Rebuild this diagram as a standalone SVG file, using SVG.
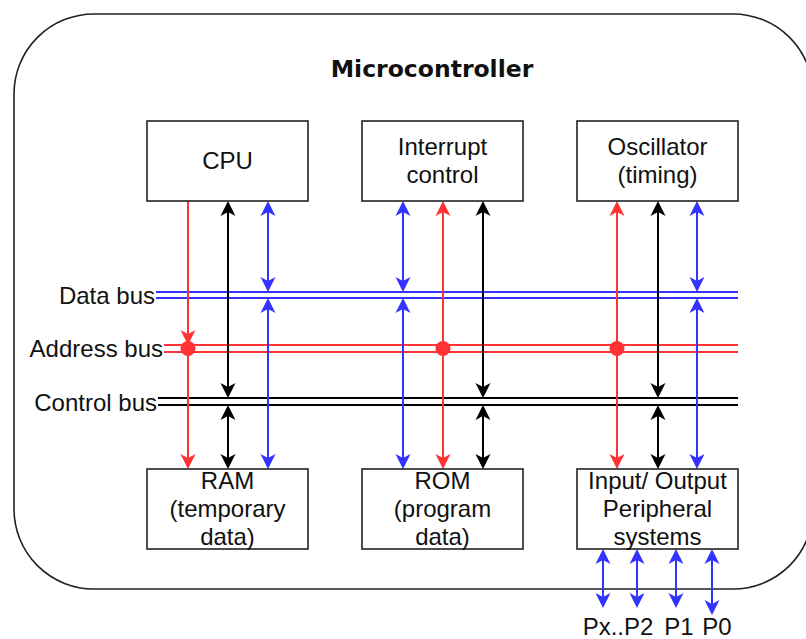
<svg xmlns="http://www.w3.org/2000/svg" width="806" height="639" viewBox="0 0 806 639">
  <style>
    .box { fill: #ffffff; stroke: #222222; stroke-width: 1.6; }
    .lbl { font-family: "Liberation Sans", Arial, sans-serif; font-size: 24px; fill: #111111; text-anchor: middle; }
    .bus-lbl { font-family: "Liberation Sans", Arial, sans-serif; font-size: 24px; fill: #111111; text-anchor: end; }
    .title { font-family: "DejaVu Sans", Verdana, sans-serif; font-weight: bold; font-size: 23.5px; fill: #111111; text-anchor: middle; }
    .ln { fill: none; stroke-width: 2; }
    .blue { stroke: #3333FF; }
    .red { stroke: #FF3333; }
    .blk { stroke: #000000; }
  </style>
  <defs>
    <marker id="ah-blue" viewBox="-16 -8 17 16" refX="-3" refY="0" markerWidth="17" markerHeight="16" markerUnits="userSpaceOnUse" orient="auto-start-reverse">
      <path d="M0,0 L-15,-7.5 L-11,0 L-15,7.5 Z" fill="#3333FF"/>
    </marker>
    <marker id="ah-red" viewBox="-16 -8 17 16" refX="-3" refY="0" markerWidth="17" markerHeight="16" markerUnits="userSpaceOnUse" orient="auto-start-reverse">
      <path d="M0,0 L-15,-7.5 L-11,0 L-15,7.5 Z" fill="#FF3333"/>
    </marker>
    <marker id="ah-blk" viewBox="-16 -8 17 16" refX="-3" refY="0" markerWidth="17" markerHeight="16" markerUnits="userSpaceOnUse" orient="auto-start-reverse">
      <path d="M0,0 L-15,-7.5 L-11,0 L-15,7.5 Z" fill="#000000"/>
    </marker>
  </defs>

  <rect width="806" height="639" fill="#ffffff"/>

  <!-- enclosing microcontroller outline -->
  <g id="microcontroller">
    <rect x="14" y="14" width="799" height="575" rx="80" ry="80" fill="#ffffff" stroke="#222222" stroke-width="1.6"/>
    <text class="title" x="432" y="77">Microcontroller</text>
  </g>

  <!-- bus labels -->
  <g id="bus-labels">
    <text class="bus-lbl" x="155" y="304">Data bus</text>
    <text class="bus-lbl" x="163" y="357">Address bus</text>
    <text class="bus-lbl" x="157" y="411">Control bus</text>
  </g>

  <!-- connectors: buses, vertical links, I/O ports -->
  <g id="connectors">
    <!-- data bus -->
    <path class="ln blue" d="M156,292 H738 M156,298 H738"/>
    <!-- address bus -->
    <path class="ln red" d="M164,345 H738 M164,352 H738"/>
    <!-- control bus -->
    <path class="ln blk" d="M158,398 H738 M158,405 H738"/>

    <!-- CPU / RAM column -->
    <path class="ln red" d="M188,201 V342" marker-end="url(#ah-red)"/>
    <path class="ln red" d="M188,352 V466" marker-end="url(#ah-red)"/>
    <path class="ln blk" d="M228,204 V395" marker-start="url(#ah-blk)" marker-end="url(#ah-blk)"/>
    <path class="ln blk" d="M228,408 V466" marker-start="url(#ah-blk)" marker-end="url(#ah-blk)"/>
    <path class="ln blue" d="M268,204 V289" marker-start="url(#ah-blue)" marker-end="url(#ah-blue)"/>
    <path class="ln blue" d="M268,301 V466" marker-start="url(#ah-blue)" marker-end="url(#ah-blue)"/>

    <!-- Interrupt / ROM column -->
    <path class="ln blue" d="M403,204 V289" marker-start="url(#ah-blue)" marker-end="url(#ah-blue)"/>
    <path class="ln blue" d="M403,301 V466" marker-start="url(#ah-blue)" marker-end="url(#ah-blue)"/>
    <path class="ln red" d="M443,204 V466" marker-start="url(#ah-red)" marker-end="url(#ah-red)"/>
    <path class="ln blk" d="M483,204 V395" marker-start="url(#ah-blk)" marker-end="url(#ah-blk)"/>
    <path class="ln blk" d="M483,408 V466" marker-start="url(#ah-blk)" marker-end="url(#ah-blk)"/>

    <!-- Oscillator / I/O column -->
    <path class="ln red" d="M617,204 V466" marker-start="url(#ah-red)" marker-end="url(#ah-red)"/>
    <path class="ln blk" d="M658,204 V395" marker-start="url(#ah-blk)" marker-end="url(#ah-blk)"/>
    <path class="ln blk" d="M658,408 V466" marker-start="url(#ah-blk)" marker-end="url(#ah-blk)"/>
    <path class="ln blue" d="M697,204 V289" marker-start="url(#ah-blue)" marker-end="url(#ah-blue)"/>
    <path class="ln blue" d="M697,301 V466" marker-start="url(#ah-blue)" marker-end="url(#ah-blue)"/>

    <!-- address bus taps -->
    <circle cx="188" cy="348.5" r="7.5" fill="#FF3333"/>
    <circle cx="443" cy="348.5" r="7.5" fill="#FF3333"/>
    <circle cx="617" cy="348.5" r="7.5" fill="#FF3333"/>

    <!-- I/O ports -->
    <path class="ln blue" d="M603,552 V605" marker-start="url(#ah-blue)" marker-end="url(#ah-blue)"/>
    <path class="ln blue" d="M637,552 V605" marker-start="url(#ah-blue)" marker-end="url(#ah-blue)"/>
    <path class="ln blue" d="M676,552 V605" marker-start="url(#ah-blue)" marker-end="url(#ah-blue)"/>
    <path class="ln blue" d="M712,552 V612" marker-start="url(#ah-blue)" marker-end="url(#ah-blue)"/>
  </g>

  <!-- blocks -->
  <g id="cpu">
    <rect class="box" x="147" y="121" width="161" height="80"/>
    <text class="lbl" x="227.5" y="169">CPU</text>
  </g>
  <g id="interrupt-control">
    <rect class="box" x="362" y="121" width="161" height="80"/>
    <text class="lbl" x="442.5" y="155">Interrupt</text>
    <text class="lbl" x="442.5" y="183">control</text>
  </g>
  <g id="oscillator">
    <rect class="box" x="577" y="121" width="161" height="80"/>
    <text class="lbl" x="657.5" y="155">Oscillator</text>
    <text class="lbl" x="657.5" y="183">(timing)</text>
  </g>
  <g id="ram">
    <rect class="box" x="147" y="469" width="161" height="80"/>
    <text class="lbl" x="227.5" y="489">RAM</text>
    <text class="lbl" x="227.5" y="517">(temporary</text>
    <text class="lbl" x="227.5" y="545">data)</text>
  </g>
  <g id="rom">
    <rect class="box" x="362" y="469" width="161" height="80"/>
    <text class="lbl" x="442.5" y="489">ROM</text>
    <text class="lbl" x="442.5" y="517">(program</text>
    <text class="lbl" x="442.5" y="545">data)</text>
  </g>
  <g id="io">
    <rect class="box" x="577" y="469" width="161" height="80"/>
    <text class="lbl" x="657.5" y="489">Input/ Output</text>
    <text class="lbl" x="657.5" y="517">Peripheral</text>
    <text class="lbl" x="657.5" y="545">systems</text>
  </g>

  <!-- port labels -->
  <g id="ports">
    <text class="lbl" x="618" y="635">Px..P2</text>
    <text class="lbl" x="679" y="635">P1</text>
    <text class="lbl" x="717" y="635">P0</text>
  </g>
</svg>
